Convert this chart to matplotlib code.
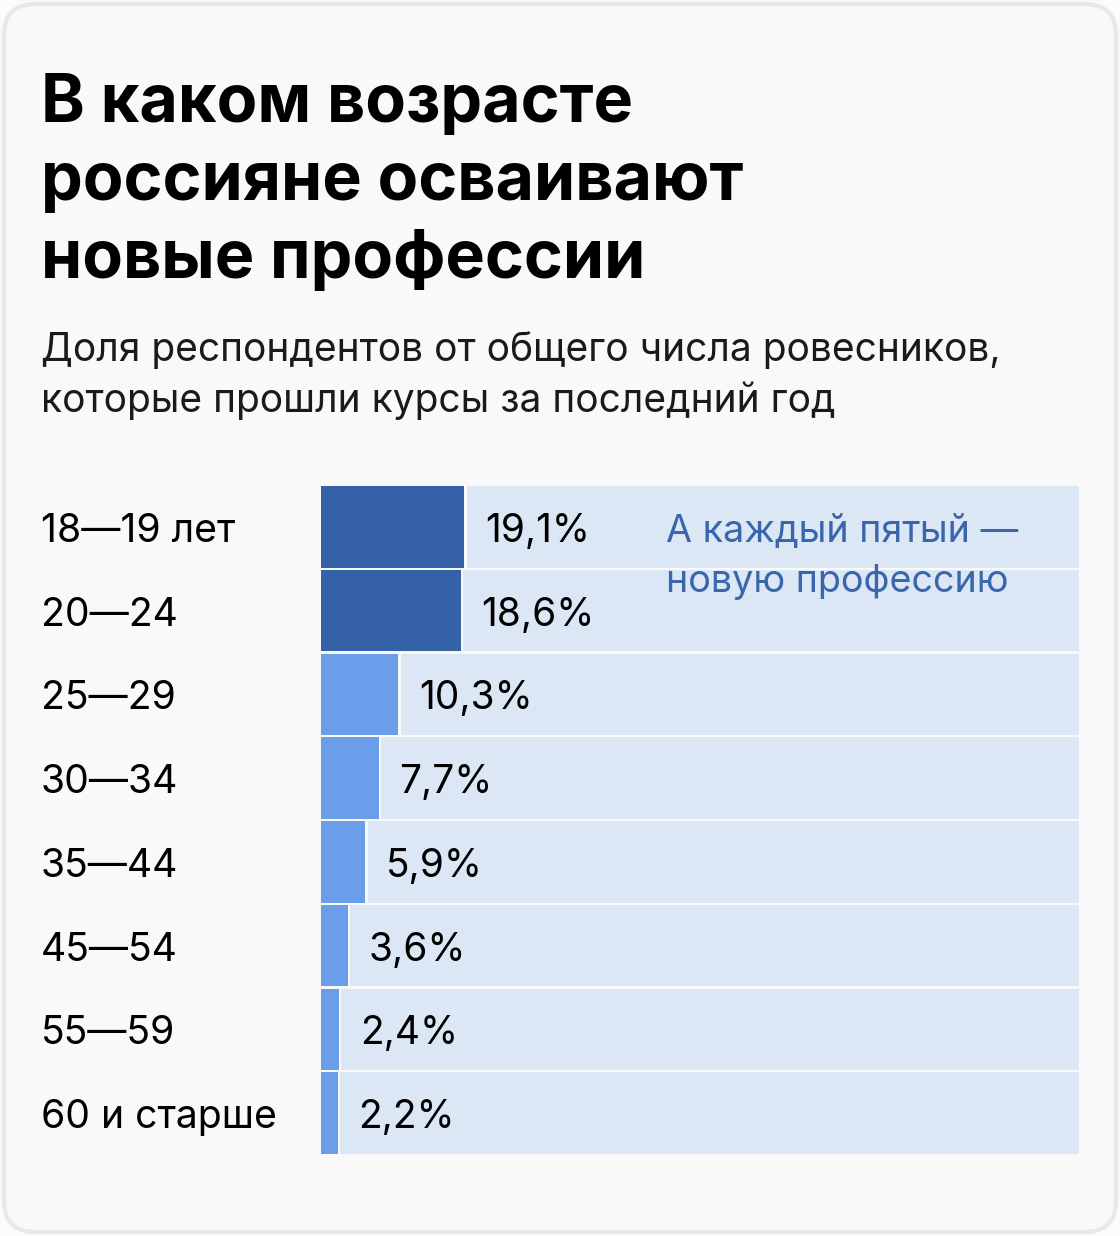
import matplotlib
matplotlib.use("Agg")
import matplotlib.pyplot as plt
from matplotlib.patches import FancyBboxPatch
from matplotlib.transforms import blended_transform_factory

plt.rcParams['font.family'] = ['Inter', 'DejaVu Sans']

# data
groups = ["18—19 лет", "20—24", "25—29", "30—34", "35—44", "45—54", "55—59", "60 и старше"]
shares = [19.1, 18.6, 10.3, 7.7, 5.9, 3.6, 2.4, 2.2]
share_labels = ["19,1%", "18,6%", "10,3%", "7,7%", "5,9%", "3,6%", "2,4%", "2,2%"]
highlight = [True, True, False, False, False, False, False, False]

title = "В каком возрасте\nроссияне осваивают\nновые профессии"
subtitle = "Доля респондентов от общего числа ровесников,\nкоторые прошли курсы за последний год"
note = "А каждый пятый —\nновую профессию"

DARK = "#3562a6"
LIGHT = "#6a9eea"
BG = "#dce7f5"
NOTE = "#3966ad"
XMAX = 101

W, H = 1120, 1236
fig = plt.figure(figsize=(W / 100, H / 100), dpi=100)
fig.patch.set_facecolor("#fbfbfb")

card = FancyBboxPatch((4 / W, 4 / H), 1112 / W, 1228 / H,
                      boxstyle="round,pad=0,rounding_size=0.028",
                      transform=fig.transFigure, facecolor="#f9f9f9",
                      edgecolor="#e8e8e8", linewidth=3, mutation_aspect=W / H,
                      zorder=-10)
fig.patches.append(card)

fig.text(41 / W, 1 - 278 / H, title, fontsize=47.8, fontweight="bold",
         va="baseline", ha="left", linespacing=1.31, color="black")
fig.text(41 / W, 1 - 412 / H, subtitle, fontsize=28, va="baseline", ha="left",
         linespacing=1.40, color="#1a1a1a")

ax = fig.add_axes([321 / W, 1 - 1155 / H, 758 / W, 670 / H])
ax.set_zorder(1)
ax.set_xlim(0, XMAX)
ax.set_ylim(len(groups) - 0.5, -0.5)
ax.axis("off")

ypos = list(range(len(groups)))
colors = [DARK if h else LIGHT for h in highlight]
gaps = [v + 0.3 for v in shares]
ax.barh(ypos, [XMAX - g for g in gaps], left=gaps, height=0.975, color=BG)
ax.barh(ypos, shares, height=0.975, color=colors)

trans = blended_transform_factory(fig.transFigure, ax.transData)
for y, g, v, lab in zip(ypos, groups, shares, share_labels):
    ax.text(41 / W, y + 0.18, g, transform=trans, fontsize=28.2, va="baseline",
            ha="left", color="black", clip_on=False)
    ax.annotate(lab, (v, y + 0.18), xytext=(15, 0), textcoords="offset points",
                fontsize=28, va="baseline", ha="left", color="black")

ax.text(666 / W, 0.776, note, transform=trans, fontsize=27.2, va="baseline",
        ha="left", color=NOTE, linespacing=1.5)

fig.savefig("out.png", dpi=100, facecolor=fig.get_facecolor())
